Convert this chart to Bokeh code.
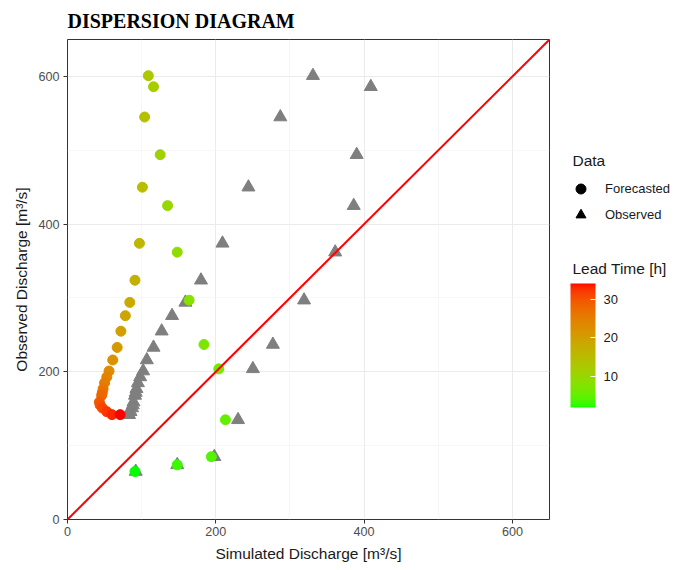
import numpy as np
from bokeh.plotting import figure
from bokeh.layouts import row
from bokeh.models import (ColumnDataSource, LinearColorMapper, ColorBar, Legend,
                          LegendItem, Slope, FixedTicker, Range1d, Label)
from bokeh.embed import file_html
from bokeh.resources import INLINE

# Lead time of each forecast step [h]
lead_time = [2, 3, 4, 5, 6, 7, 8, 9, 10, 11, 12, 13, 14, 15, 16, 17, 18,
             19, 20, 21, 22, 23, 24, 25, 26, 27, 28, 29, 30, 31, 32, 33, 34]
# Observed discharge [m3/s]
observed = [65, 74, 85, 135, 204, 237, 297, 362, 425, 494, 586, 601,
            545, 450, 374, 324, 294, 276, 255, 233, 216, 201, 193, 185,
            177, 172, 168, 159, 155, 151, 146, 142, 142]
# Forecasted discharge [m3/s]
forecasted = [91, 148, 194, 213, 204, 184, 164, 148, 135, 125, 116, 109,
              104, 101, 97, 91, 84, 78, 72, 67, 61, 56, 53, 50,
              48, 47, 46, 43, 44, 47, 53, 60, 71]
# Simulated discharge [m3/s]
simulated = [92, 148, 198, 230, 250, 277, 319, 361, 386, 390, 409, 331,
             287, 244, 209, 180, 159, 141, 127, 116, 107, 102, 98, 95,
             93, 92, 91, 89, 88, 87, 85, 83, 81]

axis_ticks = [0, 200, 400, 600]
colorbar_ticks = [10, 20, 30]

FONT = "Liberation Sans"
TICK_SIZE = "12.6px"
KEY_SIZE = "13px"
TITLE_SIZE = "15.5px"

# --- green -> red ramp interpolated in CIELAB -------------------------------
M = np.array([[0.4124564, 0.3575761, 0.1804375],
              [0.2126729, 0.7151522, 0.0721750],
              [0.0193339, 0.1191920, 0.9503041]])
M_INV = np.linalg.inv(M)
WHITE = np.array([0.95047, 1.0, 1.08883])


def hex_to_lab(h):
    rgb = np.array([int(h[i:i + 2], 16) / 255 for i in (1, 3, 5)])
    lin = np.where(rgb <= 0.04045, rgb / 12.92, ((rgb + 0.055) / 1.055) ** 2.4)
    xyz = M @ lin / WHITE
    f = np.where(xyz > (6 / 29) ** 3, np.cbrt(xyz), xyz / (3 * (6 / 29) ** 2) + 4 / 29)
    return np.array([116 * f[1] - 16, 500 * (f[0] - f[1]), 200 * (f[1] - f[2])])


def lab_to_hex(lab):
    L, a, b = lab
    fy = (L + 16) / 116
    f = np.array([fy + a / 500, fy, fy - b / 200])
    xyz = np.where(f > 6 / 29, f ** 3, 3 * (6 / 29) ** 2 * (f - 4 / 29)) * WHITE
    lin = np.clip(M_INV @ xyz, 0, 1)
    rgb = np.where(lin <= 0.0031308, 12.92 * lin, 1.055 * lin ** (1 / 2.4) - 0.055)
    rgb = np.clip(np.round(rgb * 255), 0, 255).astype(int)
    return "#%02x%02x%02x" % tuple(rgb)


def lab_ramp(low, high, n):
    a, b = hex_to_lab(low), hex_to_lab(high)
    return [lab_to_hex(a + (b - a) * t) for t in np.linspace(0, 1, n)]


palette = lab_ramp("#00ff00", "#ff0000", 256)
mapper = LinearColorMapper(palette=palette, low=min(lead_time), high=max(lead_time))

source = ColumnDataSource(dict(obs=observed, fc=forecasted, sim=simulated, lead=lead_time))

# --- main scatter panel ------------------------------------------------------
p = figure(width=550, height=570, x_range=Range1d(0, 650), y_range=Range1d(0, 650),
           output_backend="svg", toolbar_location=None,
           min_border_left=67, min_border_right=1, min_border_top=39, min_border_bottom=51,
           title="DISPERSION DIAGRAM")
p.background_fill_color = "white"
p.border_fill_color = "white"
p.outline_line_color = "#333333"
p.outline_line_width = 1

p.title.text_font = "Liberation Serif"
p.title.text_font_style = "bold"
p.title.text_font_size = "20px"
p.title.text_color = "black"
p.title.align = "left"
p.title.standoff = 15

for ax in (p.xaxis, p.yaxis):
    ax.ticker = FixedTicker(ticks=axis_ticks, minor_ticks=[100, 300, 500])
    ax.axis_line_color = None
    ax.major_tick_line_color = "#333333"
    ax.major_tick_in = 0
    ax.major_tick_out = 4
    ax.minor_tick_line_color = None
    ax.major_label_text_font = FONT
    ax.major_label_text_font_size = TICK_SIZE
    ax.major_label_text_color = "#4d4d4d"
    ax.axis_label_text_font = FONT
    ax.axis_label_text_font_size = TITLE_SIZE
    ax.axis_label_text_font_style = "normal"
    ax.axis_label_text_color = "#1a1a1a"

p.xaxis.axis_label = "Simulated Discharge [m³/s]"
p.yaxis.axis_label = "Observed Discharge [m³/s]"
p.xaxis.major_label_standoff = 3
p.yaxis.major_label_standoff = 4
p.xaxis.axis_label_standoff = 6
p.yaxis.axis_label_standoff = 5

for gr in (p.xgrid, p.ygrid):
    gr.grid_line_color = "#ebebeb"
    gr.grid_line_width = 1
    gr.minor_grid_line_color = "#f2f2f2"
    gr.minor_grid_line_width = 0.6

# simulated vs observed (grey triangles), then forecasts coloured by lead time
p.scatter("sim", "obs", source=source, marker="triangle", size=13,
          fill_color="#7f7f7f", line_color="#7f7f7f")
p.scatter("fc", "obs", source=source, marker="circle", size=10,
          fill_color={"field": "lead", "transform": mapper},
          line_color={"field": "lead", "transform": mapper})

# 1:1 line
p.add_layout(Slope(gradient=1, y_intercept=0, line_color="red", line_width=2))

# --- guide panel: shape legend and lead-time colour bar ------------------------
# its frame shares the main panel's top/bottom borders (480 px tall)
g = figure(width=135, height=570, x_range=Range1d(0, 135), y_range=Range1d(0, 480),
           output_backend="svg", toolbar_location=None,
           min_border_left=0, min_border_right=0, min_border_top=39, min_border_bottom=51)
g.axis.visible = False
g.grid.visible = False
g.outline_line_color = None
g.background_fill_color = "white"
g.border_fill_color = "white"

g.add_layout(Label(x=22, y=359, text="Data", text_baseline="middle",
                   text_font=FONT, text_font_size=TITLE_SIZE, text_color="#1a1a1a"))

# key glyphs (kept outside the visible range)
r_fc = g.scatter([-100], [-100], marker="circle", size=9, color="black")
r_ob = g.scatter([-100], [-100], marker="triangle", size=11, color="black")
legend = Legend(items=[LegendItem(label="Forecasted", renderers=[r_fc]),
                       LegendItem(label="Observed", renderers=[r_ob])],
                location=(18, 292),
                padding=0, margin=0, spacing=1, border_line_color=None,
                background_fill_alpha=0, glyph_width=25, glyph_height=25,
                label_standoff=12,
                label_text_font=FONT, label_text_font_size=KEY_SIZE,
                label_text_color="#1a1a1a")
g.add_layout(legend)

g.add_layout(Label(x=22, y=251, text="Lead Time [h]", text_baseline="middle",
                   text_font=FONT, text_font_size=TITLE_SIZE, text_color="#1a1a1a"))

color_bar = ColorBar(color_mapper=mapper, location=(20, 112), width=25, height=124,
                     padding=0, margin=0, ticker=FixedTicker(ticks=colorbar_ticks),
                     major_label_text_font=FONT,
                     major_label_text_font_size=KEY_SIZE,
                     major_label_text_color="#1a1a1a",
                     major_tick_line_color="white", major_tick_in=5, major_tick_out=0,
                     label_standoff=8, bar_line_color=None,
                     background_fill_alpha=0, border_line_color=None)
g.add_layout(color_bar)

layout = row(p, g, spacing=0)
open("out.html", "w").write(file_html(layout, INLINE))
